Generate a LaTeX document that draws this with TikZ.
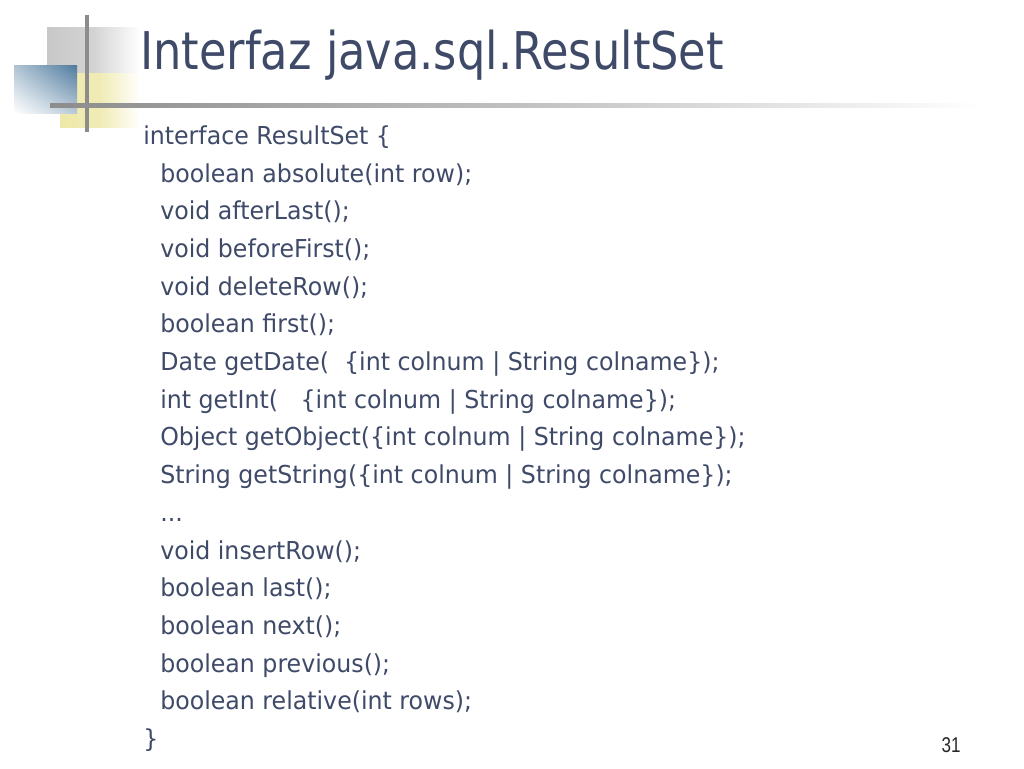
\documentclass[tikz,border=0pt]{standalone}
\usepackage{fontspec}
\usetikzlibrary{shadings}
\setmainfont{DejaVu Sans}
\newfontfamily\codefont[FakeStretch=0.96]{DejaVu Sans}
\newfontfamily\titlefont[FakeStretch=0.86]{DejaVu Sans}
\newfontfamily\numfont[FakeStretch=0.8]{Liberation Sans}
\definecolor{slate}{RGB}{62,74,104}
\definecolor{barGray}{RGB}{140,140,140}
\definecolor{boxGray}{RGB}{200,200,200}
\definecolor{boxYellow}{RGB}{238,232,168}
\definecolor{boxBlue}{RGB}{78,122,158}

\begin{document}
\begin{tikzpicture}[x=0.75pt, y=-0.75pt,
% Text styles
		title/.style={inner sep=0
							    , anchor=base west
							    , text=slate
							    , font=\titlefont\fontsize{39}{44}\selectfont},
		code/.style={inner sep=0
							    , anchor=base west
							    , text=slate
							    , font=\codefont\fontsize{18.5}{22}\selectfont},
		pagenum/.style={inner sep=0
							    , anchor=base
							    , text=black!85
							    , font=\numfont\fontsize{16}{18}\selectfont},
% Decoration style
		bar/.style={draw=barGray, line width=3pt}
	]
	\useasboundingbox (0,0) rectangle (1024,768);
%% Corner decoration
	\shade[left color=boxGray, right color=white, middle color=boxGray!80] (47,27) rectangle (140,75);
	\shade[left color=boxYellow, right color=white, middle color=boxYellow!85] (60,73) rectangle (140,127);
	\shade[upper right=boxBlue, upper left=boxBlue!45, lower right=boxBlue!40, lower left=white] (14,65) rectangle (77,113);
	\coordinate (vtop) at (87,15);
	\coordinate (vbot) at (87,132);
	\draw[bar] (vtop) -- (vbot);
	\shade[left color=barGray, right color=white, middle color=barGray!55] (50,103) rectangle (980,107);
%% Title and code lines
	\node[title] (title) at (140,69) {Interfaz java.sql.ResultSet};
	\node[code] (m0) at (143,144.3) {interface ResultSet \{};
	\foreach \txt [count=\i] in {
		{boolean absolute(int row);},
		{void afterLast();},
		{void beforeFirst();},
		{void deleteRow();},
		{boolean first();},
		{Date getDate(\ \ \{int colnum | String colname\});},
		{int getInt(\ \ \ \{int colnum | String colname\});},
		{Object getObject(\{int colnum | String colname\});},
		{String getString(\{int colnum | String colname\});},
		{.{}.{}.},
		{void insertRow();},
		{boolean last();},
		{boolean next();},
		{boolean previous();},
		{boolean relative(int rows);}}
		\node[code] (m\i) at (160,{144.3+37.7*\i}) {\txt};
	\node[code] (m16) at (143,747.5) {\}};
	\node[pagenum] (page) at (951,752) {31};
\end{tikzpicture}
\end{document}
